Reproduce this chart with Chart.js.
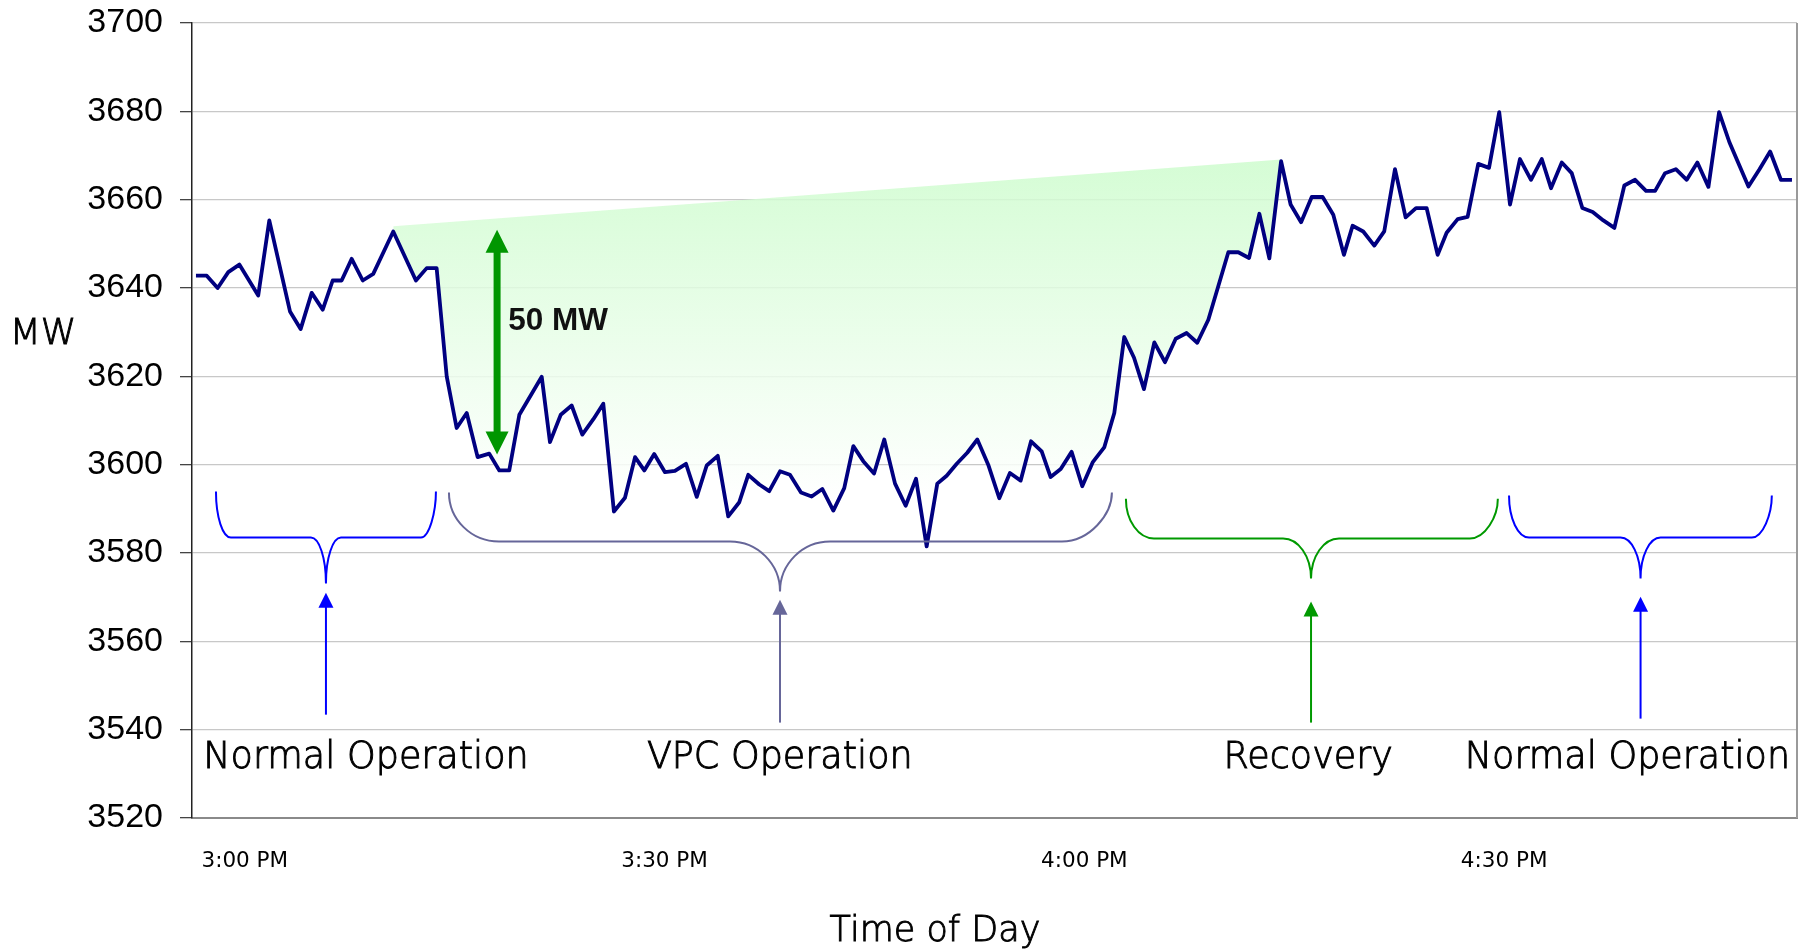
<!DOCTYPE html>
<html>
  <head>
    <meta charset="utf-8" />
    <title>VPC operation</title>
    <script src="https://cdn.jsdelivr.net/npm/chart.js@4.4.1/dist/chart.umd.min.js"></script>
    <style>
      html, body { margin: 0; padding: 0; background: #fff; }
      #wrap { width: 1806px; height: 950px; position: relative; }
    </style>
  </head>
  <body>
    <div id="wrap"><canvas id="chart"></canvas></div>
    <script>
      // minutes after 3:00 PM
      const times = [
        -3.49, -2.72, -1.94, -1.18, -0.39, 0.96, 1.75, 3.23, 3.99, 4.78,
        5.57, 6.28, 6.92, 7.64, 8.43, 9.18, 10.61, 12.23, 13.0, 13.71,
        14.43, 15.14, 15.86, 16.64, 17.47, 18.19, 18.9, 19.62, 21.22, 21.81,
        22.58, 23.36, 24.12, 24.91, 25.62, 26.38, 27.17, 27.89, 28.55, 29.26,
        30.03, 30.74, 31.53, 32.3, 33.01, 33.8, 34.55, 35.34, 35.98, 36.77,
        37.48, 38.25, 38.96, 39.75, 40.51, 41.27, 42.06, 42.84, 43.49, 44.2,
        44.97, 45.7, 46.47, 47.23, 47.97, 48.73, 49.49, 50.16, 50.88, 51.63,
        52.35, 53.13, 53.92, 54.68, 55.45, 56.19, 56.95, 57.59, 58.31, 59.09,
        59.85, 60.59, 61.42, 62.14, 62.85, 63.55, 64.26, 65.0, 65.76, 66.53,
        67.31, 68.07, 68.86, 69.57, 70.29, 71.0, 71.77, 72.51, 73.22, 74.06,
        74.74, 75.49, 76.25, 77.03, 77.79, 78.55, 79.17, 79.93, 80.72, 81.43,
        82.2, 82.96, 83.7, 84.46, 85.25, 85.89, 86.68, 87.39, 88.15, 88.92,
        89.65, 90.42, 91.13, 91.92, 92.69, 93.35, 94.12, 94.83, 95.59, 96.33,
        97.09, 97.88, 98.59, 99.36, 100.14, 100.79, 101.5, 102.27, 103.05, 103.81,
        104.6, 105.36, 106.1, 106.79, 107.46, 108.25, 109.01, 109.78, 110.57
      ];
      const mw = [
        3642.8, 3642.8, 3640.0, 3643.6, 3645.3, 3638.3, 3655.3, 3634.7, 3630.7, 3638.9,
        3635.1, 3641.7, 3641.7, 3646.6, 3641.7, 3643.2, 3652.8, 3641.7, 3644.5, 3644.5,
        3620.0, 3608.3, 3611.7, 3601.7, 3602.5, 3598.7, 3598.7, 3611.3, 3619.9, 3605.1,
        3611.3, 3613.4, 3606.8, 3610.3, 3613.8, 3589.4, 3592.5, 3601.7, 3598.7, 3602.4,
        3598.3, 3598.6, 3600.2, 3592.7, 3599.8, 3602.0, 3588.3, 3591.5, 3597.7, 3595.5,
        3594.0, 3598.5, 3597.7, 3593.7, 3592.8, 3594.5, 3589.6, 3594.7, 3604.2, 3600.8,
        3598.0, 3605.7, 3595.7, 3590.7, 3596.8, 3581.5, 3595.7, 3597.5, 3600.2, 3602.7,
        3605.7, 3600.0, 3592.4, 3598.1, 3596.4, 3605.3, 3603.0, 3597.2, 3599.0, 3602.9,
        3595.1, 3600.5, 3603.9, 3611.7, 3628.9, 3624.2, 3617.1, 3627.7, 3623.2, 3628.5,
        3629.8, 3627.6, 3632.8, 3640.4, 3648.1, 3648.1, 3646.8, 3656.8, 3646.7, 3668.7,
        3658.9, 3654.9, 3660.6, 3660.6, 3656.6, 3647.5, 3654.1, 3652.8, 3649.6, 3652.8,
        3666.9, 3656.0, 3658.1, 3658.1, 3647.5, 3652.5, 3655.6, 3656.1, 3668.1, 3667.2,
        3679.8, 3658.9, 3669.2, 3664.5, 3669.2, 3662.6, 3668.4, 3666.0, 3658.1, 3657.2,
        3655.3, 3653.6, 3663.2, 3664.5, 3662.0, 3662.0, 3666.0, 3666.9, 3664.5, 3668.4,
        3662.9, 3679.8, 3673.0, 3667.9, 3663.0, 3666.9, 3670.9, 3664.5, 3664.5
      ];

      // straight upper edge of the shaded "lost" area
      const gapTimes = [10.61, 74.06];
      const gapMW = [3654.0, 3669.1];

      const tickTimes = [0, 30, 60, 90];
      const tickLabels = ["3:00 PM", "3:30 PM", "4:00 PM", "4:30 PM"];

      // braces + arrows under the trace (time / MW units)
      const phases = [
        { label: "Normal Operation", from: -2.06, to: 13.66, mid: 5.8, top: 3593.9, bar: 3583.5, tip: 3573.1, arrowTip: 3571.0, arrowEnd: 3543.4, textAt: 8.66, color: "#0000ff", curve: 15 },
        { label: "VPC Operation", from: 14.59, to: 61.97, mid: 38.25, top: 3593.7, bar: 3582.6, tip: 3571.3, arrowTip: 3569.4, arrowEnd: 3541.6, textAt: 38.23, color: "#666699", curve: 50 },
        { label: "Recovery", from: 62.97, to: 89.55, mid: 76.2, top: 3592.3, bar: 3583.3, tip: 3574.2, arrowTip: 3569.0, arrowEnd: 3541.6, textAt: 76.0, color: "#009900", curve: 28 },
        { label: "Normal Operation", from: 90.35, to: 109.13, mid: 99.75, top: 3593.0, bar: 3583.5, tip: 3574.2, arrowTip: 3570.1, arrowEnd: 3542.5, textAt: 98.81, color: "#0000ff", curve: 20 }
      ];
      const labelMW = 3531.4;

      const dropArrow = { at: 18.03, top: 3653.2, bottom: 3602.3, text: "50 MW", textAt: 18.83, textMW: 3632.4 };

      const K = 0.5523;
      const labelFont = '300 36.5px "DejaVu Sans"';

      // thin face, thickened a little with a hairline stroke
      function lightText(ctx, text, x, y) {
        ctx.fillText(text, x, y);
        ctx.lineWidth = 0.9;
        ctx.strokeStyle = ctx.fillStyle;
        ctx.strokeText(text, x, y);
      }

      function drawBrace(ctx, xs, ys, p) {
        const x1 = xs.getPixelForValue(p.from);
        const x2 = xs.getPixelForValue(p.to);
        const xc = xs.getPixelForValue(p.mid);
        const yT = ys.getPixelForValue(p.top);
        const yM = ys.getPixelForValue(p.bar);
        const yC = ys.getPixelForValue(p.tip);
        const r = p.curve;
        ctx.beginPath();
        ctx.moveTo(x1, yT);
        ctx.bezierCurveTo(x1, yT + K * (yM - yT), x1 + r * (1 - K), yM, x1 + r, yM);
        ctx.lineTo(xc - r, yM);
        ctx.bezierCurveTo(xc - r + K * r, yM, xc, yC - K * (yC - yM), xc, yC);
        ctx.bezierCurveTo(xc, yC - K * (yC - yM), xc + r - K * r, yM, xc + r, yM);
        ctx.lineTo(x2 - r, yM);
        ctx.bezierCurveTo(x2 - r + K * r, yM, x2, yM - K * (yM - yT), x2, yT);
        ctx.strokeStyle = p.color;
        ctx.lineWidth = 2;
        ctx.stroke();
      }

      function drawArrow(ctx, xs, ys, p) {
        const x = xs.getPixelForValue(p.mid);
        const yTip = ys.getPixelForValue(p.arrowTip);
        const yEnd = ys.getPixelForValue(p.arrowEnd);
        const head = 15;
        ctx.strokeStyle = p.color;
        ctx.fillStyle = p.color;
        ctx.lineWidth = 2;
        ctx.beginPath();
        ctx.moveTo(x, yEnd);
        ctx.lineTo(x, yTip + head - 1);
        ctx.stroke();
        ctx.beginPath();
        ctx.moveTo(x, yTip);
        ctx.lineTo(x - head / 2, yTip + head);
        ctx.lineTo(x + head / 2, yTip + head);
        ctx.closePath();
        ctx.fill();
      }

      const notes = {
        id: "notes",
        afterDatasetsDraw(chart) {
          const { ctx, chartArea } = chart;
          const xs = chart.scales.x;
          const ys = chart.scales.y;
          ctx.save();

          // plot frame on the right
          ctx.strokeStyle = "#9a9a9a";
          ctx.lineWidth = 2;
          ctx.beginPath();
          ctx.moveTo(chartArea.right, chartArea.top);
          ctx.lineTo(chartArea.right, chartArea.bottom);
          ctx.stroke();

          for (const p of phases) {
            drawBrace(ctx, xs, ys, p);
            drawArrow(ctx, xs, ys, p);
            ctx.fillStyle = "#000";
            ctx.font = labelFont;
            ctx.textAlign = "center";
            ctx.textBaseline = "alphabetic";
            lightText(ctx, p.label, xs.getPixelForValue(p.textAt), ys.getPixelForValue(labelMW));
          }

          // 50 MW double arrow
          const ax = xs.getPixelForValue(dropArrow.at);
          const aTop = ys.getPixelForValue(dropArrow.top);
          const aBot = ys.getPixelForValue(dropArrow.bottom);
          const hl = 23, hw = 23;
          ctx.fillStyle = "#009600";
          ctx.fillRect(ax - 3.5, aTop + hl - 2, 7, aBot - aTop - 2 * hl + 4);
          ctx.beginPath();
          ctx.moveTo(ax, aTop);
          ctx.lineTo(ax - hw / 2, aTop + hl);
          ctx.lineTo(ax + hw / 2, aTop + hl);
          ctx.closePath();
          ctx.fill();
          ctx.beginPath();
          ctx.moveTo(ax, aBot);
          ctx.lineTo(ax - hw / 2, aBot - hl);
          ctx.lineTo(ax + hw / 2, aBot - hl);
          ctx.closePath();
          ctx.fill();
          ctx.fillStyle = "#111";
          ctx.font = 'bold 31.5px "Liberation Sans"';
          ctx.textAlign = "left";
          ctx.textBaseline = "middle";
          ctx.fillText(dropArrow.text, xs.getPixelForValue(dropArrow.textAt), ys.getPixelForValue(dropArrow.textMW));

          // axis titles
          ctx.fillStyle = "#000";
          ctx.font = '300 36px "DejaVu Sans"';
          ctx.textAlign = "center";
          ctx.textBaseline = "middle";
          lightText(ctx, "MW", 43, 335);
          ctx.font = '300 35px "DejaVu Sans"';
          ctx.textBaseline = "alphabetic";
          lightText(ctx, "Time of Day", 935, 941);
          ctx.restore();
        }
      };

      function gapFill(context) {
        const chart = context.chart;
        const { ctx, chartArea, scales } = chart;
        if (!chartArea) return "rgba(210,252,210,0.85)";
        const y0 = scales.y.getPixelForValue(3670);
        const y1 = scales.y.getPixelForValue(3592);
        const g = ctx.createLinearGradient(0, y0, 0, y1);
        g.addColorStop(0, "rgba(205,252,205,0.85)");
        g.addColorStop(1, "rgba(255,255,255,0.85)");
        return g;
      }

      new Chart(document.getElementById("chart"), {
        type: "line",
        data: {
          datasets: [
            {
              data: times.map((t, i) => ({ x: t, y: mw[i] })),
              borderColor: "#000080",
              borderWidth: 3.8,
              borderJoinStyle: "round",
              pointRadius: 0,
              tension: 0,
              fill: false
            },
            {
              data: gapTimes.map((t, i) => ({ x: t, y: gapMW[i] })),
              borderWidth: 0,
              borderColor: "rgba(0,0,0,0)",
              pointRadius: 0,
              backgroundColor: gapFill,
              fill: { target: 0 }
            }
          ]
        },
        options: {
          responsive: true,
          maintainAspectRatio: false,
          devicePixelRatio: 1,
          animation: false,
          layout: { padding: { top: 23, right: 9, left: 0, bottom: 0 } },
          plugins: { legend: { display: false }, tooltip: { enabled: false } },
          scales: {
            x: {
              type: "linear",
              min: -3.773,
              max: 110.93,
              afterFit: (s) => { s.height = 132; s.paddingLeft = 0; s.paddingRight = 0; },
              afterBuildTicks: (s) => { s.ticks = tickTimes.map((v) => ({ value: v })); },
              grid: { display: false, drawTicks: false },
              border: { color: "#8a8a8a", width: 2 },
              ticks: {
                autoSkip: false,
                maxRotation: 0,
                padding: 31,
                color: "#000",
                font: { family: "DejaVu Sans", size: 21.5 },
                callback: (v) => tickLabels[tickTimes.indexOf(v)]
              }
            },
            y: {
              min: 3520,
              max: 3700,
              afterFit: (s) => { s.width = 192; s.paddingTop = 0; s.paddingBottom = 0; },
              grid: { color: "#c8c8c8", lineWidth: 1.3, tickLength: 12, tickColor: "#444" },
              border: { color: "#222", width: 1.5 },
              ticks: {
                stepSize: 20,
                padding: 17,
                color: "#000",
                font: { family: "Liberation Sans", size: 34 },
                callback: (v) => String(v)
              }
            }
          }
        },
        plugins: [notes]
      });
    </script>
  </body>
</html>
